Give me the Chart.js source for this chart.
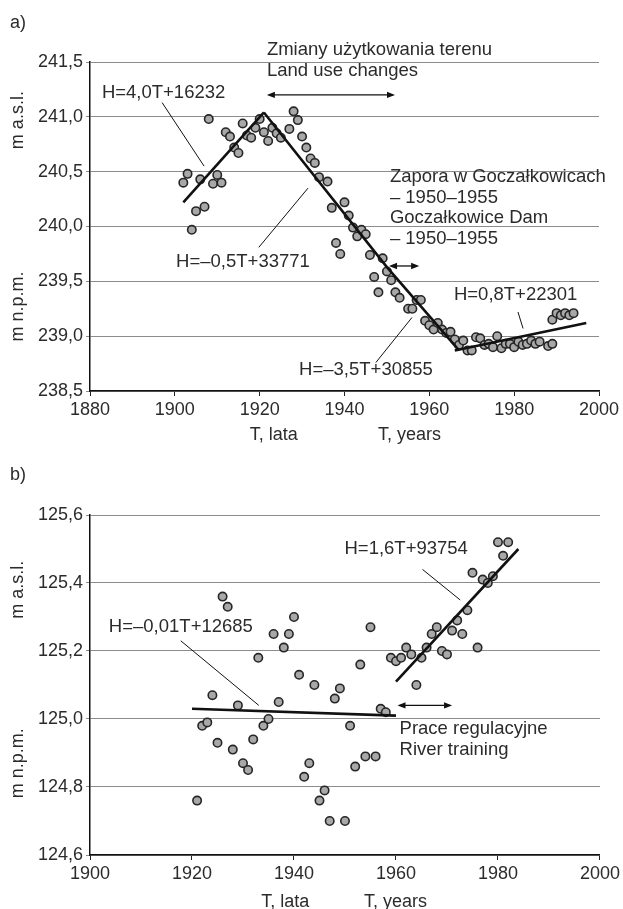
<!DOCTYPE html>
<html lang="pl">
<head>
<meta charset="UTF-8">
<title>Stany wody – zmiany wieloletnie</title>
<script src="https://cdn.jsdelivr.net/npm/chart.js"></script>
<style>
  body { margin: 0; background: #fff; }
  .panel { position: absolute; left: 0; width: 623px; }
  #wrapA { top: 0; height: 450px; }
  #wrapB { top: 450px; height: 459px; }
</style>
</head>
<body>
<div class="panel" id="wrapA"><canvas id="chartA"></canvas></div>
<div class="panel" id="wrapB"><canvas id="chartB"></canvas></div>
<script>
// ---- panel a) ----
const yearsA = [1902,1903,1904,1905,1906,1907,1908,1909,1910,1911,1912,1913,1914,1915,1916,1917,1918,1919,1920,1921,
  1922,1923,1924,1925,1927,1928,1929,1930,1931,1932,1933,1934,1936,1937,1938,1939,1940,1941,1942,1943,
  1944,1945,1946,1947,1948,1949,1950,1951,1952,1953,1955,1956,1957,1958,1959,1960,1961,1962,1963,1964,
  1965,1966,1967,1968,1969,1970,1971,1972,1973,1974,1975,1976,1977,1978,1979,1980,1981,1982,1983,1984,
  1985,1986,1988,1989,1989,1990,1991,1992,1993,1994];
const levelsA = [240.40,240.48,239.97,240.14,240.43,240.18,240.98,240.39,240.47,240.40,240.86,240.82,240.72,240.67,240.94,240.83,240.81,240.90,240.98,240.86,
  240.78,240.90,240.85,240.81,240.89,241.05,240.97,240.82,240.72,240.62,240.58,240.45,240.41,240.17,239.85,239.75,240.22,240.10,239.99,239.91,
  239.97,239.93,239.74,239.54,239.40,239.71,239.59,239.51,239.40,239.35,239.25,239.25,239.33,239.33,239.14,239.10,239.06,239.12,239.06,239.03,
  239.04,238.97,238.92,238.96,238.87,238.87,238.99,238.98,238.92,238.93,238.90,239.00,238.89,238.93,238.93,238.90,238.95,238.92,238.93,238.96,
  238.93,238.95,238.91,238.93,239.15,239.21,239.19,239.21,239.19,239.21];
const trendA1Years = [1902, 1921],        trendA1Levels = [240.22, 241.04];
const trendA2Years = [1921, 1950, 1967],  trendA2Levels = [241.04, 239.63, 238.87];
const trendA3Years = [1966, 1997],        trendA3Levels = [238.87, 239.12];

// ---- panel b) ----
const yearsB = [1921,1922,1923,1924,1925,1926,1927,1928,1929,1930,1931,1932,1933,1934,1935,1936,1937,1938,1939,1940,
  1941,1942,1943,1944,1945,1946,1947,1948,1949,1950,1951,1952,1953,1954,1955,1956,1957,1958,1959,1960,
  1961,1962,1963,1964,1965,1966,1967,1968,1969,1970,1971,1972,1973,1974,1975,1976,1977,1978,1979,1980,1981,1982];
const levelsB = [124.76,124.98,124.99,125.07,124.93,125.36,125.33,124.91,125.04,124.87,124.85,124.94,125.18,124.98,125.00,125.25,125.05,125.21,125.25,125.30,
  125.13,124.83,124.87,125.10,124.76,124.79,124.70,125.06,125.09,124.70,124.98,124.86,125.16,124.89,125.27,124.89,125.03,125.02,125.18,125.17,
  125.18,125.21,125.19,125.10,125.18,125.21,125.25,125.27,125.20,125.19,125.26,125.29,125.25,125.32,125.43,125.21,125.41,125.40,125.42,125.52,125.48,125.52];
const trendB1Years = [1920, 1960], trendB1Levels = [125.03, 125.01];
const trendB2Years = [1960, 1984], trendB2Levels = [125.11, 125.50];

const FONT = '"Liberation Sans", Arial, sans-serif';
const INK = '#2b2b2b';

function pairs(xs, ys) { return xs.map((x, i) => ({ x: x, y: ys[i] })); }
function comma(v) { return v.toFixed(1).replace('.', ','); }

function drawArrow(ctx, x1, x2, y) {
  ctx.beginPath(); ctx.moveTo(x1 + 2, y); ctx.lineTo(x2 - 2, y); ctx.stroke();
  [[x1, 1], [x2, -1]].forEach(([px, d]) => {
    ctx.beginPath();
    ctx.moveTo(px, y);
    ctx.lineTo(px + d * 8, y - 3.2);
    ctx.lineTo(px + d * 8, y + 3.2);
    ctx.closePath(); ctx.fill();
  });
}

// annotations: texts, leader lines, arrows and axis captions
const notesPlugin = {
  id: 'notes',
  afterDraw(chart, args, o) {
    const ctx = chart.ctx, xs = chart.scales.x, ys = chart.scales.y;
    const px = v => xs.getPixelForValue(v), py = v => ys.getPixelForValue(v);
    ctx.save();
    ctx.font = '18.5px ' + FONT;
    ctx.fillStyle = INK;
    ctx.strokeStyle = '#111';
    ctx.textBaseline = 'middle';
    ctx.textAlign = 'left';
    o.texts.forEach(t => ctx.fillText(t[0], px(t[1]), py(t[2])));
    ctx.lineWidth = 1;
    o.leaders.forEach(l => {
      ctx.beginPath(); ctx.moveTo(px(l[0]), py(l[1])); ctx.lineTo(px(l[2]), py(l[3])); ctx.stroke();
    });
    ctx.lineWidth = 1.3;
    ctx.fillStyle = '#111';
    o.arrows.forEach(a => drawArrow(ctx, px(a[0]), px(a[1]), py(a[2])));
    ctx.fillStyle = INK;
    ctx.font = '18px ' + FONT;
    // panel letter
    ctx.fillText(o.letter, 10, o.letterY);
    // x captions
    ctx.textAlign = 'center';
    const capY = chart.chartArea.bottom + o.capDy;
    ctx.fillText('T, lata', px(o.capX[0]), capY);
    ctx.fillText('T, years', px(o.capX[1]), capY);
    // y captions (rotated)
    [['m a.s.l.', o.yCap[0]], ['m n.p.m.', o.yCap[1]]].forEach(([s, v]) => {
      ctx.save();
      ctx.translate(18, py(v));
      ctx.rotate(-Math.PI / 2);
      ctx.fillText(s, 0, 0);
      ctx.restore();
    });
    ctx.restore();
  }
};

function lineSet(xs, ys) {
  return { type: 'line', data: pairs(xs, ys), borderColor: '#111', borderWidth: 2.6,
           pointRadius: 0, fill: false, tension: 0, order: 0 };
}
function pointSet(xs, ys) {
  return { data: pairs(xs, ys), backgroundColor: '#a8a8a8', borderColor: '#262626',
           borderWidth: 1.6, pointRadius: 4.2, order: 1 };
}

function makeChart(id, sets, xr, yr, pad, xAxisH, notes) {
  return new Chart(document.getElementById(id), {
    type: 'scatter',
    data: { datasets: sets },
    options: {
      responsive: true, maintainAspectRatio: false, animation: false,
      layout: { padding: pad },
      plugins: { legend: { display: false }, tooltip: { enabled: false }, notes: notes },
      scales: {
        x: {
          type: 'linear', min: xr[0], max: xr[1],
          ticks: { stepSize: 20, color: INK, font: { size: 18, family: FONT }, padding: 3,
                   maxRotation: 0, callback: v => String(v) },
          grid: { drawOnChartArea: false, drawTicks: true, tickLength: 5, color: '#222' },
          border: { color: '#111', width: 1.5 },
          afterFit: s => { s.height = xAxisH; }
        },
        y: {
          min: yr[0], max: yr[1],
          ticks: { stepSize: yr[2], color: INK, font: { size: 18, family: FONT }, padding: 3,
                   callback: v => comma(v) },
          grid: { color: '#8c8c8c', lineWidth: 1, tickLength: 4 },
          border: { color: '#111', width: 1.5 },
          afterFit: s => { s.width = 90; }
        }
      }
    },
    plugins: [notesPlugin]
  });
}

makeChart('chartA',
  [lineSet(trendA1Years, trendA1Levels), lineSet(trendA2Years, trendA2Levels), lineSet(trendA3Years, trendA3Levels),
   pointSet(yearsA, levelsA)],
  [1880, 2000], [238.5, 241.5, 0.5], { top: 62, right: 24, bottom: 0, left: 0 }, 59,
  {
    texts: [
      ['Zmiany użytkowania terenu', 1921.7, 241.61],
      ['Land use changes', 1921.7, 241.42],
      ['H=4,0T+16232', 1882.8, 241.22],
      ['Zapora w Goczałkowicach', 1950.7, 240.45],
      ['– 1950–1955', 1950.7, 240.26],
      ['Goczałkowice Dam', 1950.7, 240.08],
      ['– 1950–1955', 1950.7, 239.89],
      ['H=–0,5T+33771', 1900.3, 239.68],
      ['H=–3,5T+30855', 1929.3, 238.69],
      ['H=0,8T+22301', 1965.8, 239.38]
    ],
    leaders: [
      [1897.0, 241.13, 1906.9, 240.55],
      [1919.8, 239.81, 1931.4, 240.35],
      [1947.4, 238.76, 1955.9, 239.17],
      [1980.9, 239.22, 1982.1, 239.07]
    ],
    arrows: [[1921.7, 1951.9, 241.20], [1950.5, 1957.6, 239.64]],
    letter: 'a)', letterY: 23,
    capX: [1923.3, 1955.3], capDy: 44,
    yCap: [240.97, 239.27]
  });

makeChart('chartB',
  [lineSet(trendB1Years, trendB1Levels), lineSet(trendB2Years, trendB2Levels), pointSet(yearsB, levelsB)],
  [1900, 2000], [124.6, 125.6, 0.2], { top: 65, right: 22, bottom: 0, left: 0 }, 54,
  {
    texts: [
      ['H=1,6T+93754', 1949.9, 125.50],
      ['H=–0,01T+12685', 1903.7, 125.27],
      ['Prace regulacyjne', 1960.7, 124.97],
      ['River training', 1960.7, 124.91]
    ],
    leaders: [
      [1965.2, 125.44, 1972.6, 125.35],
      [1917.8, 125.23, 1933.1, 125.04]
    ],
    arrows: [[1960.3, 1971.0, 125.04]],
    letter: 'b)', letterY: 25,
    capX: [1938.3, 1959.9], capDy: 47,
    yCap: [125.38, 124.87]
  });
</script>
</body>
</html>
